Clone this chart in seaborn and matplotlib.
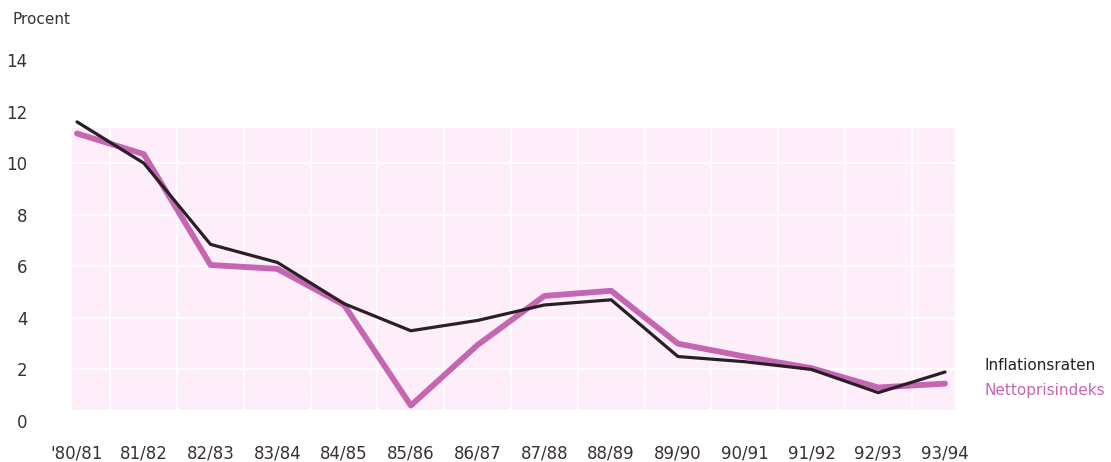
import numpy as np
import pandas as pd
import matplotlib.pyplot as plt
import seaborn as sns

# Data
perioder = ["'80/81", "81/82", "82/83", "83/84", "84/85", "85/86", "86/87",
            "87/88", "88/89", "89/90", "90/91", "91/92", "92/93", "93/94"]
inflationsraten = [11.6, 10.0, 6.85, 6.15, 4.55, 3.5, 3.9,
                   4.5, 4.7, 2.5, 2.3, 2.0, 1.1, 1.9]
nettoprisindeks = [11.15, 10.35, 6.05, 5.9, 4.5, 0.6, 2.95,
                   4.85, 5.05, 3.0, 2.5, 2.05, 1.3, 1.45]
y_ticks = [0, 2, 4, 6, 8, 10, 12, 14]

dark = "#2a1f24"
pink = "#c466b2"
text_col = "#3a3035"

sns.set_style("white")
plt.rcParams['font.family'] = ['DejaVu Sans']

fig = plt.figure(figsize=(11.11, 4.62), dpi=100)
ax = fig.add_axes([72 / 1111, 41 / 462, (955 - 72) / 1111, (421 - 60) / 462])

pos = np.arange(len(perioder))
df = pd.DataFrame({"pos": pos, "infl": inflationsraten, "netto": nettoprisindeks})

# pale pink panel behind the lines
ax.axhspan(0.43, 11.35, color="#fdeefa", zorder=0, lw=0)

sns.lineplot(data=df, x="pos", y="netto", ax=ax, color=pink, lw=4.2, zorder=3)
sns.lineplot(data=df, x="pos", y="infl", ax=ax, color=dark, lw=2.3, zorder=4)

ax.set_xlim(-0.075, 13.15)
ax.set_ylim(0, 14)
ax.set_xticks(pos)
ax.set_xticklabels(perioder)
ax.set_xticks(pos[:-1] + 0.5, minor=True)
ax.set_yticks(y_ticks)
ax.set_xlabel("")
ax.set_ylabel("")

ax.grid(False)
ax.grid(axis="x", which="minor", color="white", lw=1.4, zorder=1)
ax.grid(axis="y", which="major", color="white", lw=1.4, zorder=1)
ax.set_axisbelow(True)

for s in ax.spines.values():
    s.set_visible(False)
ax.tick_params(axis="both", which="both", length=0, labelsize=12, colors=text_col)
ax.tick_params(axis="x", pad=17)
ax.tick_params(axis="y", pad=32)

fig.text(12 / 1111, 1 - 20 / 462, "Procent", fontsize=11, color=text_col,
         ha="left", va="center")
fig.text(985 / 1111, 1 - 366 / 462, "Inflationsraten", fontsize=11,
         color=dark, ha="left", va="center")
fig.text(985 / 1111, 1 - 391 / 462, "Nettoprisindeks", fontsize=11,
         color=pink, ha="left", va="center")

fig.savefig("out.png", dpi=100)
